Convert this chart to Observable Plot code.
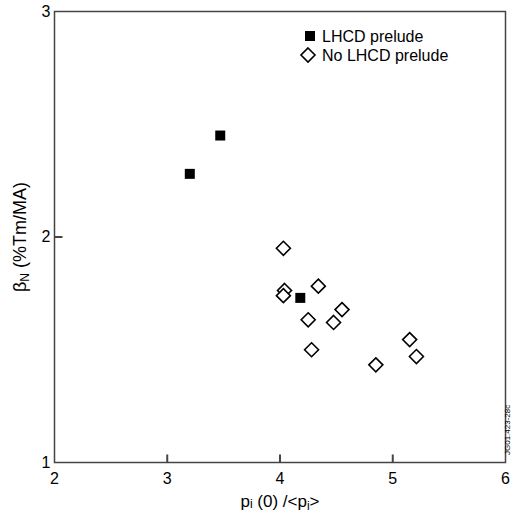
<!DOCTYPE html>
<html><head><meta charset="utf-8">
<script src="https://cdn.jsdelivr.net/npm/d3@7"></script>
<script src="https://cdn.jsdelivr.net/npm/@observablehq/plot@0.6"></script>
<style>body{margin:0;background:#fff}</style>
</head><body><div id="chart"></div>
<script>
// LHCD prelude (filled squares)
const lhcdX = [3.20, 3.47, 4.18];
const lhcdY = [2.28, 2.45, 1.73];
// No LHCD prelude (open diamonds)
const noX = [4.03, 4.04, 4.03, 4.34, 4.55, 4.25, 4.475, 4.28, 5.15, 5.21, 4.85];
const noY = [1.95, 1.763, 1.74, 1.782, 1.678, 1.633, 1.621, 1.50, 1.545, 1.47, 1.433];
const xTicks = [2, 3, 4, 5, 6];
const yTicks = [1, 2, 3];
const seriesNames = ["LHCD prelude", "No LHCD prelude"];

const lhcd = lhcdX.map((x, i) => ({x, y: lhcdY[i]}));
const noLhcd = noX.map((x, i) => ({x, y: noY[i]}));
const font = "'Liberation Sans', Arial, Helvetica, sans-serif";

const W = 514, H = 516, mL = 54, mR = 9, mT = 11, mB = 54;
const xDom = [2, 6], yDom = [1, 3];
const tickPx = 8;
const tickLenX = tickPx * (xDom[1] - xDom[0]) / (W - mL - mR);
const tickLenY = tickPx * (yDom[1] - yDom[0]) / (H - mT - mB);
const innerX = xTicks.slice(1, -1);
const innerY = yTicks.slice(1, -1);

const chart = Plot.plot({
  width: W, height: H,
  marginLeft: mL, marginRight: mR, marginTop: mT, marginBottom: mB,
  x: {domain: xDom},
  y: {domain: yDom},
  style: {fontFamily: font, fontSize: "16px", background: "#fff", color: "#000"},
  marks: [
    Plot.frame({stroke: "#444", strokeWidth: 1.5}),
    Plot.link(innerX, {x1: d => d, x2: d => d, y1: () => yDom[0], y2: () => yDom[0] + tickLenY, stroke: "#444", strokeWidth: 2}),
    Plot.link(innerY, {y1: d => d, y2: d => d, x1: () => xDom[0], x2: () => xDom[0] + tickLenX, stroke: "#444", strokeWidth: 2}),
    Plot.axisX({ticks: xTicks, tickSize: 0, tickPadding: 10, label: null, fontSize: 16, tickFormat: d => d}),
    Plot.axisY({ticks: yTicks, tickSize: 0, tickPadding: 4, label: null, fontSize: 16, tickFormat: d => d}),
    Plot.dot(noLhcd, {x: "x", y: "y", symbol: "diamond2", r: 6.3, stroke: "#000", fill: "#fff", strokeWidth: 1.6}),
    Plot.dot(lhcd, {x: "x", y: "y", symbol: "square", r: 5.64, fill: "#000", stroke: "none"})
  ]
});
document.getElementById("chart").appendChild(chart);

const svg = d3.select(chart);
// x label
const xl = svg.append("text").attr("x", 280).attr("y", 507).attr("text-anchor", "middle")
  .attr("font-family", font).attr("font-size", 17).attr("fill", "#000");
xl.append("tspan").text("p");
xl.append("tspan").attr("font-size", 12).attr("dy", 1).text("i");
xl.append("tspan").attr("dy", -1).text(" (0) /<p");
xl.append("tspan").attr("font-size", 12).attr("dy", 3).text("i");
xl.append("tspan").attr("dy", -3).text(">");
// y label
const yl = svg.append("text").attr("transform", "translate(26,237) rotate(-90)").attr("text-anchor", "middle")
  .attr("font-family", font).attr("font-size", 18).attr("fill", "#000");
yl.append("tspan").text("β");
yl.append("tspan").attr("font-size", 12).attr("dy", 3).text("N");
yl.append("tspan").attr("dy", -3).text(" (%Tm/MA)");
// code label
svg.append("text").attr("transform", "translate(510,455) rotate(-90)").attr("text-anchor", "start")
  .attr("font-family", font).attr("font-size", 8).attr("fill", "#000").text("JG01.423-28c");
// legend
const lg = svg.append("g").attr("font-family", font).attr("font-size", 16).attr("fill", "#000").attr("text-anchor", "start");
lg.append("rect").attr("x", 305).attr("y", 31).attr("width", 10).attr("height", 10).attr("fill", "#000");
lg.append("text").attr("x", 322).attr("y", 42).text(seriesNames[0]);
lg.append("path").attr("d", "M308,48L315,55L308,62L301,55Z").attr("fill", "#fff").attr("stroke", "#000").attr("stroke-width", 1.6);
lg.append("text").attr("x", 322).attr("y", 61).text(seriesNames[1]);
</script>
</body></html>
